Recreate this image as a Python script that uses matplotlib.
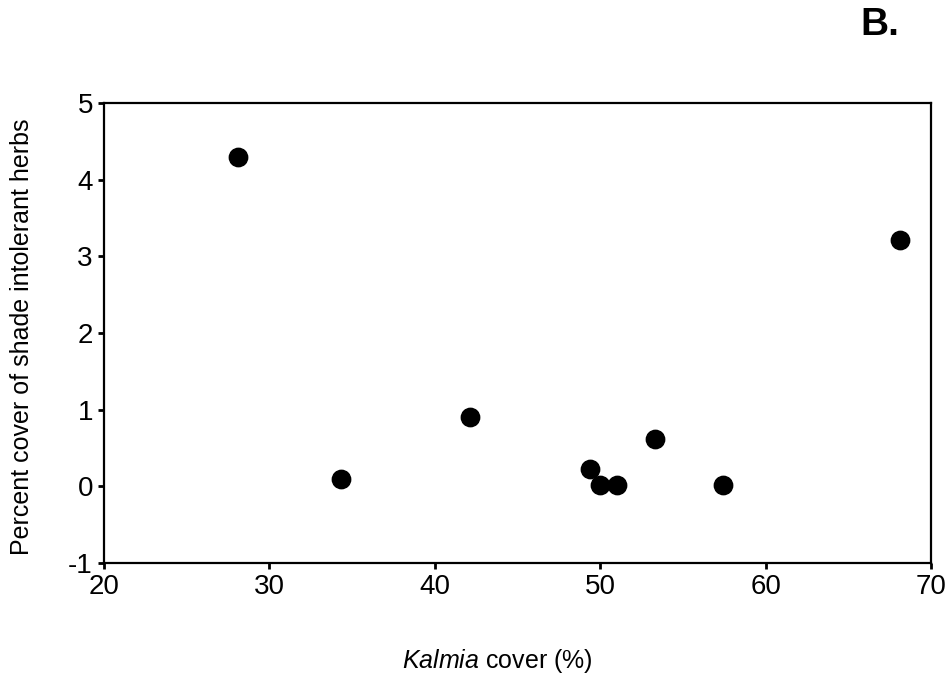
import matplotlib
matplotlib.use("Agg")
import matplotlib.pyplot as plt

plt.rcParams['font.family'] = ['Liberation Sans', 'DejaVu Sans']
plt.rcParams['axes.unicode_minus'] = False
plt.rcParams['mathtext.fontset'] = 'custom'
plt.rcParams['mathtext.it'] = 'Liberation Sans:italic'
plt.rcParams['mathtext.rm'] = 'Liberation Sans'

kalmia_cover = [28.1, 34.3, 42.1, 49.4, 50.0, 51.0, 53.3, 57.4, 68.1]
herb_cover = [4.30, 0.10, 0.90, 0.22, 0.02, 0.02, 0.62, 0.02, 3.21]
x_ticks = [20, 30, 40, 50, 60, 70]
y_ticks = [-1, 0, 1, 2, 3, 4, 5]

W, H = 951, 678
fig = plt.figure(figsize=(W/100, H/100), dpi=100)
ax = fig.add_axes([104/W, 1-563/H, (931-104)/W, (563-103)/H])

ax.scatter(kalmia_cover, herb_cover, s=175, color='black', zorder=3, clip_on=False)

ax.set_xlim(20, 70)
ax.set_ylim(-1, 5)
ax.set_xticks(x_ticks)
ax.set_yticks(y_ticks)
ax.tick_params(direction='out', length=4, width=2, labelsize=20, pad=4)
for sp in ax.spines.values():
    sp.set_linewidth(1.6)

fig.text(497/W, 1-661/H, r'$\it{Kalmia}$ cover (%)', fontsize=18, ha='center', va='center')
fig.text(22/W, 1-337/H, 'Percent cover of shade intolerant herbs', fontsize=18,
         rotation=90, ha='center', va='center')

fig.text(880/W, 1-25/H, 'B.', fontsize=28, fontweight='bold', ha='center', va='center')

fig.savefig('out.png', dpi=100)
